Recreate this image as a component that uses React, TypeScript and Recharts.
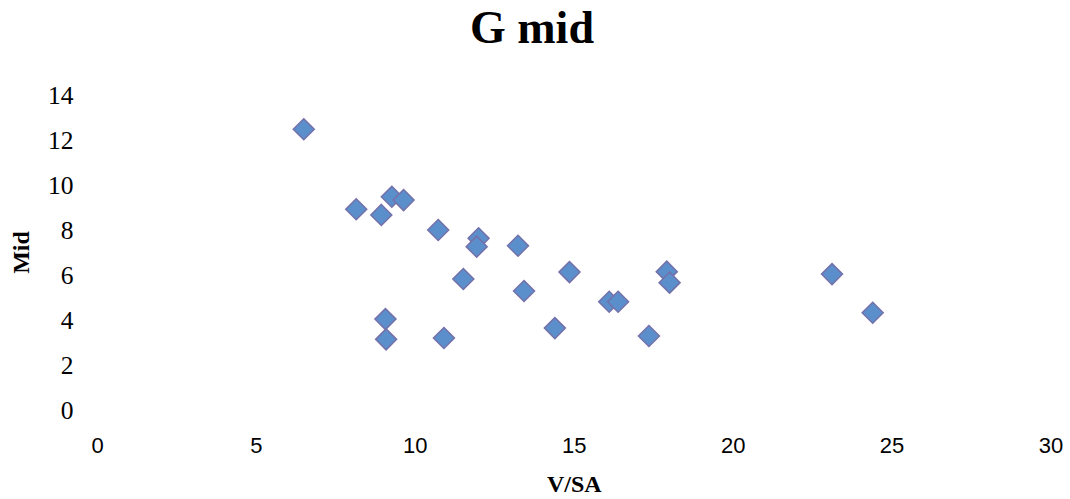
import { ScatterChart, Scatter, XAxis, YAxis, Customized } from 'recharts'

// V/SA vs Mid
const vsa = [6.49, 8.14, 8.93, 9.26, 9.63, 10.72, 11.99, 11.93, 13.23, 11.51, 14.85, 13.42, 9.06, 9.08, 10.9, 14.39, 16.1, 16.38, 17.91, 18.0, 17.35, 23.11, 24.39]
const mid = [12.48, 8.92, 8.67, 9.48, 9.33, 8.0, 7.63, 7.26, 7.3, 5.82, 6.13, 5.29, 4.04, 3.14, 3.2, 3.64, 4.81, 4.81, 6.15, 5.66, 3.29, 6.04, 4.32]
const xTicks = [0, 5, 10, 15, 20, 25, 30]
const yTicks = [0, 2, 4, 6, 8, 10, 12, 14]

const points = vsa.map((x, i) => ({ x, y: mid[i] }))

const serif = '"Liberation Serif", serif'
const sans = '"Liberation Sans", sans-serif'

// square rotated 45deg, like Excel's diamond marker
function Diamond(props: any) {
  const { cx, cy } = props
  const r = 10.5
  return (
    <polygon
      points={`${cx},${cy - r} ${cx + r},${cy} ${cx},${cy + r} ${cx - r},${cy}`}
      fill="#5b8fcb"
      stroke="#7471aa"
      strokeWidth={1.5}
    />
  )
}

export default function App() {
  return (
    <div style={{ position: 'absolute', left: 0, top: 0, background: '#fff' }}>
      <ScatterChart width={1070} height={499} margin={{ top: 95, right: 19, left: 0, bottom: 0 }}>
        <XAxis
          type="number"
          dataKey="x"
          domain={[0, 30]}
          ticks={xTicks}
          axisLine={false}
          tickLine={false}
          tickSize={0}
          tickMargin={27}
          height={89}
          tick={{ fontFamily: sans, fontSize: 22, fill: '#000' }}
          label={{ value: 'V/SA', position: 'center', dy: 29, style: { fontFamily: serif, fontWeight: 'bold', fontSize: 24, fill: '#000' } }}
        />
        <YAxis
          type="number"
          dataKey="y"
          domain={[0, 14]}
          ticks={yTicks}
          axisLine={false}
          tickLine={false}
          tickSize={0}
          tickMargin={24}
          width={97.5}
          tick={{ fontFamily: serif, fontSize: 25.5, fill: '#000' }}
          label={{ value: 'Mid', angle: -90, position: 'center', dx: -28, style: { fontFamily: serif, fontWeight: 'bold', fontSize: 24, fill: '#000' } }}
        />
        <Scatter data={points} shape={Diamond} isAnimationActive={false} />
        <Customized
          component={() => (
            <text x={532} y={43} textAnchor="middle" fontFamily={serif} fontWeight="bold" fontSize={46} fill="#000">
              G mid
            </text>
          )}
        />
      </ScatterChart>
    </div>
  )
}
